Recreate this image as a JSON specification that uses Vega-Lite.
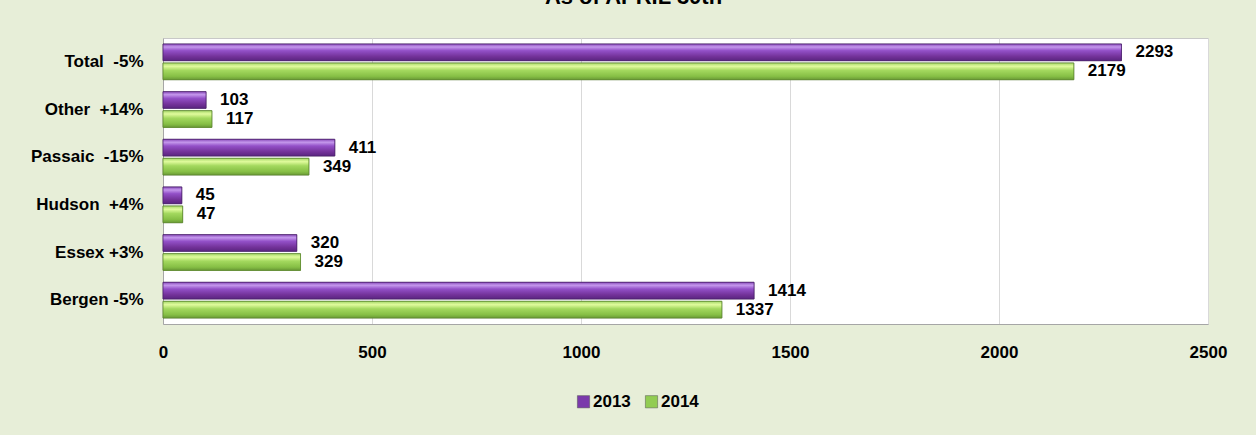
{
  "$schema": "https://vega.github.io/schema/vega-lite/v6.json",
  "width": 1045,
  "height": 286,
  "autosize": {"type": "none"},
  "padding": {"left": 163, "top": 38, "right": 48, "bottom": 111},
  "background": "#e7eed8",
  "title": {
    "text": "As of APRIL 30th",
    "anchor": "middle",
    "dx": -52,
    "offset": 12,
    "baseline": "alphabetic",
    "fontSize": 22,
    "fontWeight": "bold",
    "font": "Liberation Sans, Arial, sans-serif",
    "color": "#000000"
  },
  "config": {
    "font": "Liberation Sans, Arial, sans-serif",
    "view": {"fill": "#ffffff", "stroke": "#c8c8c8"}
  },
  "data": {
    "values": [
      {"region": "Total\u00a0\u00a0-5%", "year": "2013", "value": 2293},
      {"region": "Total\u00a0\u00a0-5%", "year": "2014", "value": 2179},
      {"region": "Other\u00a0\u00a0+14%", "year": "2013", "value": 103},
      {"region": "Other\u00a0\u00a0+14%", "year": "2014", "value": 117},
      {"region": "Passaic\u00a0\u00a0-15%", "year": "2013", "value": 411},
      {"region": "Passaic\u00a0\u00a0-15%", "year": "2014", "value": 349},
      {"region": "Hudson\u00a0\u00a0+4%", "year": "2013", "value": 45},
      {"region": "Hudson\u00a0\u00a0+4%", "year": "2014", "value": 47},
      {"region": "Essex +3%", "year": "2013", "value": 320},
      {"region": "Essex +3%", "year": "2014", "value": 329},
      {"region": "Bergen -5%", "year": "2013", "value": 1414},
      {"region": "Bergen -5%", "year": "2014", "value": 1337}
    ]
  },
  "encoding": {
    "y": {
      "field": "region",
      "type": "nominal",
      "sort": ["Total\u00a0\u00a0-5%", "Other\u00a0\u00a0+14%", "Passaic\u00a0\u00a0-15%", "Hudson\u00a0\u00a0+4%", "Essex +3%", "Bergen -5%"],
      "scale": {"paddingInner": 0.25, "paddingOuter": 0.125},
      "axis": {
        "title": null,
        "ticks": false,
        "labelPadding": 20,
        "labelFontSize": 17,
        "labelFontWeight": "bold",
        "labelColor": "#000000",
        "domainColor": "#a6a6a6"
      }
    },
    "yOffset": {"field": "year", "type": "nominal", "scale": {"paddingInner": 0.12}},
    "x": {
      "field": "value",
      "type": "quantitative",
      "scale": {"domain": [0, 2500]},
      "axis": {
        "title": null,
        "values": [0, 500, 1000, 1500, 2000, 2500],
        "format": "d",
        "ticks": false,
        "labelFlush": false,
        "labelPadding": 20,
        "labelFontSize": 17,
        "labelFontWeight": "bold",
        "labelColor": "#000000",
        "gridColor": "#d9d9d9",
        "domainColor": "#a6a6a6"
      }
    }
  },
  "layer": [
    {
      "mark": {"type": "bar", "stroke": "#4a4a4a", "strokeWidth": 0.6, "strokeOpacity": 0.6},
      "encoding": {
        "color": {
          "field": "year",
          "type": "nominal",
          "scale": {"domain": ["2013", "2014"], "range": ["#7b3aab", "#92cc52"]},
          "legend": {
            "title": null,
            "orient": "none",
            "legendX": 412,
            "legendY": 355,
            "direction": "horizontal",
            "symbolType": "square",
            "symbolSize": 150,
            "symbolStrokeColor": "#555555",
            "symbolStrokeWidth": 0.5,
            "labelFontSize": 17,
            "labelFontWeight": "bold",
            "labelColor": "#000000",
            "labelOffset": 1,
            "columnPadding": 12,
            "padding": 0
          }
        }
      }
    },
    {
      "transform": [{"filter": "datum.year === '2013'"}],
      "mark": {
        "type": "bar",
        "stroke": "#4b1f6e",
        "strokeWidth": 0.8,
        "fill": {
          "gradient": "linear", "x1": 0, "y1": 0, "x2": 0, "y2": 1,
          "stops": [
            {"offset": 0, "color": "#8a4bbb"},
            {"offset": 0.18, "color": "#c497ec"},
            {"offset": 0.4, "color": "#9350c8"},
            {"offset": 0.75, "color": "#733299"},
            {"offset": 1, "color": "#5a2580"}
          ]
        }
      }
    },
    {
      "transform": [{"filter": "datum.year === '2014'"}],
      "mark": {
        "type": "bar",
        "stroke": "#5d8a2c",
        "strokeWidth": 0.8,
        "fill": {
          "gradient": "linear", "x1": 0, "y1": 0, "x2": 0, "y2": 1,
          "stops": [
            {"offset": 0, "color": "#a6d86a"},
            {"offset": 0.2, "color": "#e0fb9c"},
            {"offset": 0.45, "color": "#a3d85e"},
            {"offset": 0.8, "color": "#86bf45"},
            {"offset": 1, "color": "#6a9a36"}
          ]
        }
      }
    },
    {
      "mark": {
        "type": "text",
        "align": "left",
        "baseline": "middle",
        "dx": 14,
        "fontSize": 17,
        "fontWeight": "bold",
        "color": "#000000"
      },
      "encoding": {"text": {"field": "value", "type": "quantitative", "format": "d"}}
    }
  ]
}
